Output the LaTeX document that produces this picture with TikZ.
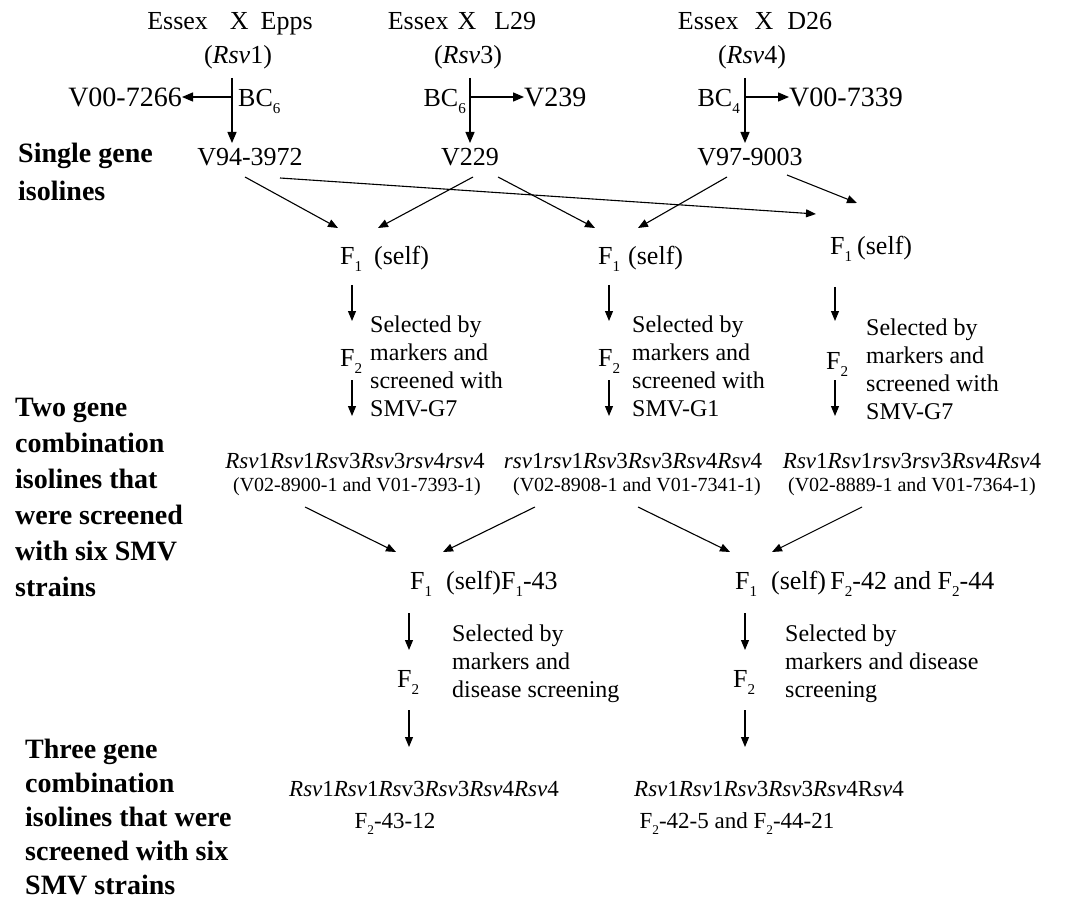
\documentclass[tikz,border=0pt]{standalone}
\usepackage{graphicx}
\usepackage{fontspec}
\setmainfont{Liberation Serif}
\usetikzlibrary{arrows.meta}
\newcommand{\sbs}[1]{\raisebox{-0.3em}{\scalebox{0.58}{#1}}}
\newcommand{\Fs}[1]{F\sbs{#1}}
\newcommand{\BCs}[1]{BC\sbs{#1}}
\begin{document}
\begin{tikzpicture}[x=1pt,y=-1pt,
  txt/.style={inner sep=0pt, text height=18.2pt, text depth=0pt, font=\fontsize{26}{30}\selectfont},
  big/.style={inner sep=0pt, text height=19.6pt, text depth=0pt, font=\fontsize{28}{30}\selectfont},
  sel/.style={inner sep=0pt, anchor=north west, align=left, font=\fontsize{24}{28}\selectfont},
  geno/.style={inner sep=0pt, text height=16.1pt, text depth=0pt, font=\fontsize{23}{27}\selectfont},
  subl/.style={inner sep=0pt, text height=14pt, text depth=0pt, font=\fontsize{20}{22}\selectfont},
  lbl/.style={inner sep=0pt, anchor=north west, align=left, font=\fontsize{28}{36}\selectfont\bfseries},
  arr/.style={-{Triangle[length=11pt,width=9pt]}, line width=1.3pt},
  sarr/.style={-{Triangle[length=10pt,width=8pt]}, line width=1.1pt}
]
\fill[white] (0,0) rectangle (1092,901);
\useasboundingbox (0,0) rectangle (1092,901);

% ---------- top crosses ----------
\node[txt] (c1) at (230,20) {Essex\hspace{22pt}X\hspace{12pt}Epps};
\node[txt] (c2) at (462,20) {Essex\hspace{9pt}X\hspace{18pt}L29};
\node[txt] (c3) at (755,20) {Essex\hspace{16pt}X\hspace{14pt}D26};
\node[txt] (r1) at (238,54) {(\textit{Rsv}1)};
\node[txt] (r2) at (468,54) {(\textit{Rsv}3)};
\node[txt] (r3) at (752,54) {(\textit{Rsv}4)};

% column 1
\coordinate (t1) at (232,78);
\coordinate (j1) at (232,97);
\coordinate (b1) at (232,143);
\node[big,anchor=east] (w1) at (182,97) {V00-7266};
\node[txt,anchor=west] (bc1) at (238,97) {\BCs{6}};
\node[txt] (v1) at (250,156) {V94-3972};
\draw[line width=1.3pt] (t1) -- (j1);
\draw[arr] (j1) -- (b1);
\draw[arr] (j1) -- (w1.east);

% column 2
\coordinate (t2) at (470,78);
\coordinate (j2) at (470,97);
\coordinate (b2) at (470,143);
\node[txt,anchor=east] (bc2) at (466,97) {\BCs{6}};
\node[big,anchor=west] (w2) at (524,97) {V239};
\node[txt] (v2) at (470,156) {V229};
\draw[line width=1.3pt] (t2) -- (j2);
\draw[arr] (j2) -- (b2);
\draw[arr] (j2) -- (w2.west);

% column 3
\coordinate (t3) at (745,78);
\coordinate (j3) at (745,97);
\coordinate (b3) at (745,143);
\node[txt,anchor=east] (bc3) at (740,97) {\BCs{4}};
\node[big,anchor=west] (w3) at (789,97) {V00-7339};
\node[txt] (v3) at (750,156) {V97-9003};
\draw[line width=1.3pt] (t3) -- (j3);
\draw[arr] (j3) -- (b3);
\draw[arr] (j3) -- (w3.west);

% ---------- left labels ----------
\node[lbl,font=\fontsize{28}{38}\selectfont\bfseries] (L1) at (18,143) {Single gene\\isolines};
\node[lbl] (L2) at (15,398) {Two gene\\combination\\isolines that\\were screened\\with six SMV\\strains};
\node[lbl,font=\fontsize{28}{34}\selectfont\bfseries] (L3) at (25,739) {Three gene\\combination\\isolines that were\\screened with six\\SMV strains};

% ---------- first F1 row ----------
\node[txt,anchor=west] (fa) at (340,255) {\Fs{1}\hspace{12pt}(self)};
\node[txt,anchor=west] (fb) at (598,255) {\Fs{1}\hspace{8pt}(self)};
\node[txt,anchor=west] (fc) at (830,245) {\Fs{1}\hspace{5pt}(self)};

\coordinate (s1a) at (245,177); \coordinate (e1a) at (338,228);
\coordinate (s1c) at (280,178); \coordinate (e1c) at (816,214);
\coordinate (s2a) at (473,177); \coordinate (e2a) at (378,228);
\coordinate (s2b) at (498,177); \coordinate (e2b) at (595,228);
\coordinate (s3b) at (727,177); \coordinate (e3b) at (638,228);
\coordinate (s3c) at (787,175); \coordinate (e3c) at (857,203);
\draw[sarr] (s1a) -- (e1a);
\draw[sarr] (s1c) -- (e1c);
\draw[sarr] (s2a) -- (e2a);
\draw[sarr] (s2b) -- (e2b);
\draw[sarr] (s3b) -- (e3b);
\draw[sarr] (s3c) -- (e3c);

% column a
\coordinate (da1) at (352,285); \coordinate (da2) at (352,321);
\coordinate (da3) at (352,380); \coordinate (da4) at (352,416);
\node[txt,anchor=west] (f2a) at (340,357) {\Fs{2}};
\node[sel] (sa) at (370,316) {Selected by\\markers and\\screened with\\SMV-G7};
\draw[sarr] (da1) -- (da2);
\draw[sarr] (da3) -- (da4);

% column b
\coordinate (db1) at (609,285); \coordinate (db2) at (609,321);
\coordinate (db3) at (609,380); \coordinate (db4) at (609,416);
\node[txt,anchor=west] (f2b) at (598,357) {\Fs{2}};
\node[sel] (sb) at (632,316) {Selected by\\markers and\\screened with\\SMV-G1};
\draw[sarr] (db1) -- (db2);
\draw[sarr] (db3) -- (db4);

% column c
\coordinate (dc1) at (835,287); \coordinate (dc2) at (835,321);
\coordinate (dc3) at (835,380); \coordinate (dc4) at (835,416);
\node[txt,anchor=west] (f2c) at (826,360) {\Fs{2}};
\node[sel] (sc) at (866,319) {Selected by\\markers and\\screened with\\SMV-G7};
\draw[sarr] (dc1) -- (dc2);
\draw[sarr] (dc3) -- (dc4);

% ---------- two-gene genotypes ----------
\node[geno] (g1) at (355,460) {\textit{Rsv}1\textit{Rsv}1\textit{Rs}v3\textit{Rsv}3\textit{rsv}4\textit{rsv}4};
\node[subl] (h1) at (357,484) {(V02-8900-1 and V01-7393-1)};
\node[geno] (g2) at (633,460) {\textit{rsv}1\textit{rsv}1\textit{Rsv}3\textit{Rsv}3\textit{Rsv}4\textit{Rsv}4};
\node[subl] (h2) at (637,484) {(V02-8908-1 and V01-7341-1)};
\node[geno] (g3) at (912,460) {\textit{Rsv}1\textit{Rsv}1\textit{rsv}3\textit{rsv}3\textit{Rsv}4\textit{Rsv}4};
\node[subl] (h3) at (912,484) {(V02-8889-1 and V01-7364-1)};

\coordinate (p1) at (305,507); \coordinate (q1) at (396,552);
\coordinate (p2) at (535,507); \coordinate (q2) at (443,552);
\coordinate (p3) at (638,507); \coordinate (q3) at (730,552);
\coordinate (p4) at (862,507); \coordinate (q4) at (772,552);
\draw[sarr] (p1) -- (q1);
\draw[sarr] (p2) -- (q2);
\draw[sarr] (p3) -- (q3);
\draw[sarr] (p4) -- (q4);

% ---------- second F1 row ----------
\node[txt,anchor=west] (fd) at (410,580) {\Fs{1}\hspace{14pt}(self)\Fs{1}-43};
\node[txt,anchor=west] (fe) at (735,580) {\Fs{1}\hspace{14pt}(self)\,\Fs{2}-42 and \Fs{2}-44};

\coordinate (dd1) at (409,613); \coordinate (dd2) at (409,650);
\coordinate (dd3) at (409,710); \coordinate (dd4) at (409,747);
\node[txt,anchor=west] (f2d) at (397,678) {\Fs{2}};
\node[sel] (sd) at (452,625) {Selected by\\markers and\\disease screening};
\draw[sarr] (dd1) -- (dd2);
\draw[sarr] (dd3) -- (dd4);

\coordinate (de1) at (745,613); \coordinate (de2) at (745,650);
\coordinate (de3) at (745,710); \coordinate (de4) at (745,747);
\node[txt,anchor=west] (f2e) at (733,678) {\Fs{2}};
\node[sel] (se) at (785,625) {Selected by\\markers and disease\\screening};
\draw[sarr] (de1) -- (de2);
\draw[sarr] (de3) -- (de4);

% ---------- three-gene genotypes ----------
\node[geno] (g4) at (424,788) {\textit{Rsv}1\textit{Rsv}1\textit{Rs}v3\textit{Rsv}3\textit{Rsv}4\textit{Rsv}4};
\node[geno] (h4) at (395,820) {\Fs{2}-43-12};
\node[geno] (g5) at (769,788) {\textit{Rsv}1\textit{Rsv}1\textit{Rsv}3\textit{Rsv}3\textit{Rsv}4R\textit{sv}4};
\node[geno] (h5) at (737,820) {\Fs{2}-42-5 and \Fs{2}-44-21};
\end{tikzpicture}
\end{document}
